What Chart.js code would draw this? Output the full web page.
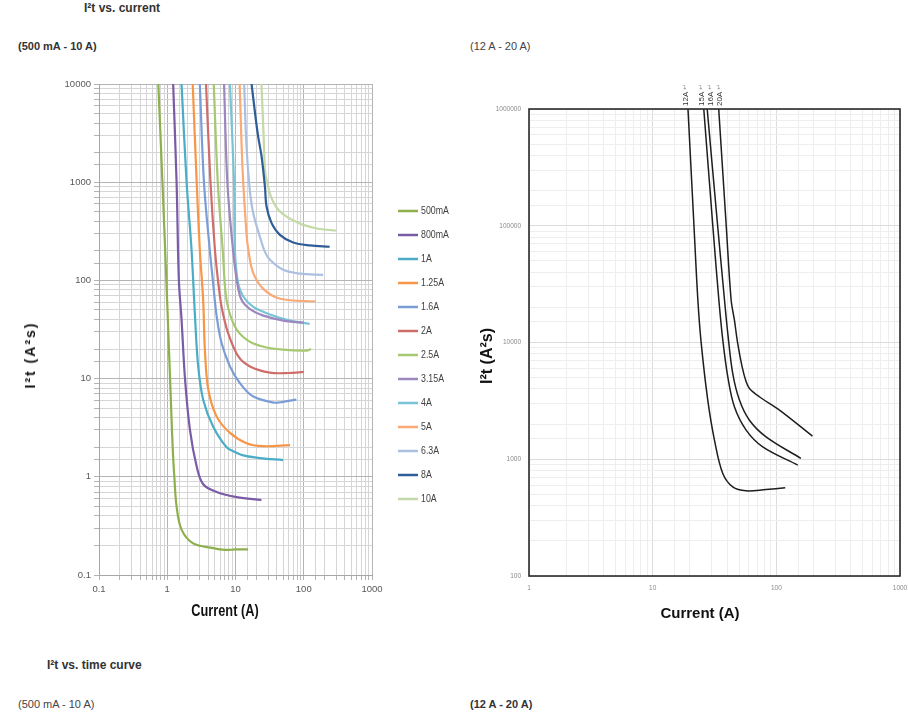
<!DOCTYPE html>
<html>
<head>
  <meta charset="utf-8">
  <title>I²t vs. current</title>
  <script src="https://cdn.jsdelivr.net/npm/chart.js"></script>
  <style>
    html, body { margin: 0; padding: 0; background: #fff; overflow: hidden; }
    #page { position: relative; width: 908px; height: 715px; overflow: hidden;
            font-family: "Liberation Sans", Arial, sans-serif; }
    .txt { position: absolute; white-space: nowrap; color: #333; }
    .b { font-weight: bold; }
    canvas { position: absolute; }
    .rot { transform: translate(-50%, -50%) rotate(-90deg); }
    .ctr { transform: translate(-50%, -50%); }
    .narrow { transform: translate(-50%, -50%) scaleX(0.75); }
  </style>
</head>
<body>
<div id="page">
  <div class="txt b" style="left:84px; top:1px; font-size:12px;">I²t vs. current</div>
  <div class="txt b" style="left:18px; top:40px; font-size:11px;">(500 mA - 10 A)</div>
  <div class="txt" style="left:470px; top:40px; font-size:11px; color:#444;">(12 A - 20 A)</div>

  <canvas id="leftChart" width="470" height="560" style="left:0; top:70px;"></canvas>
  <canvas id="rightChart" width="460" height="570" style="left:470px; top:60px;"></canvas>

  <div class="txt b rot" style="left:30px; top:355px; font-size:14px; letter-spacing:2px; color:#111;">I²t (A²s)</div>
  <div class="txt b narrow" style="left:225px; top:611px; font-size:17px; color:#111;">Current (A)</div>
  <div class="txt b rot" style="left:487px; top:356px; font-size:16px; color:#111;">I²t (A²s)</div>
  <div class="txt b ctr" style="left:700px; top:612px; font-size:15px; color:#111;">Current (A)</div>

  <div class="txt b" style="left:47px; top:658px; font-size:12px;">I²t vs. time curve</div>
  <div class="txt" style="left:18px; top:698px; font-size:11px; color:#444;">(500 mA - 10 A)</div>
  <div class="txt b" style="left:470px; top:698px; font-size:11px;">(12 A - 20 A)</div>
</div>

<script>
  // ---- left chart: 500 mA - 10 A, current (A) and I²t (A²s) ----
  const leftLabels = ['500mA', '800mA', '1A', '1.25A', '1.6A', '2A', '2.5A', '3.15A', '4A', '5A', '6.3A', '8A', '10A'];
  const leftColors = ['#8db04c', '#7a5ba6', '#4aacc6', '#f79646', '#7b9dd6', '#cf6d6b', '#a5c870',
                      '#9c87be', '#78c3d6', '#f9aa76', '#abc0e0', '#2f5d97', '#c4d9a8'];

  const cur500mA = [0.74, 0.85, 0.97, 1.1, 1.2, 1.27, 1.37, 1.62, 2.4, 4.7, 7, 10, 15.3];
  const val500mA = [10000, 1000, 100, 10, 2, 1.0, 0.5, 0.29, 0.21, 0.188, 0.18, 0.182, 0.182];
  const cur800mA = [1.22, 1.37, 1.48, 1.62, 1.82, 2.15, 2.7, 3.36, 5.3, 10.4, 24];
  const val800mA = [10000, 1000, 100, 40, 10, 3.0, 1.27, 0.84, 0.7, 0.62, 0.58];
  const cur1A = [1.62, 1.92, 2.27, 2.55, 2.84, 3.36, 4.7, 7.4, 10, 13, 22.7, 50];
  const val1A = [10000, 1000, 204, 43, 13.3, 6.1, 3.25, 2.0, 1.78, 1.65, 1.55, 1.48];
  const cur1_25A = [2.36, 2.7, 3.0, 3.36, 3.56, 4.0, 5.3, 8.3, 14.5, 25, 63];
  const val1_25A = [10000, 1000, 204, 63, 19.6, 7.7, 4.1, 2.8, 2.2, 2.05, 2.1];
  const cur1_6A = [3.0, 3.45, 4.2, 4.7, 5.3, 6.25, 8.3, 11.6, 18, 36, 50, 78];
  const val1_6A = [10000, 1000, 204, 94, 43, 23, 13.3, 9, 6.6, 5.7, 5.8, 6.1];
  const cur2A = [3.7, 4.3, 5.0, 5.6, 6.25, 7.8, 11, 16.3, 32, 60, 100];
  const val2A = [10000, 1000, 204, 94, 54, 29, 16.8, 13.3, 11.5, 11.4, 11.7];
  const cur2_5A = [4.8, 5.5, 6.5, 7.4, 9.8, 14.5, 25, 50, 110, 128];
  const val2_5A = [10000, 1000, 204, 63, 34, 25, 21.2, 19.7, 19.3, 20];
  const cur3_15A = [6.8, 7.6, 9.2, 10.6, 12.3, 16.3, 25, 50, 100];
  const val3_15A = [10000, 1000, 204, 94, 63, 51, 44, 39, 37];
  const cur4A = [8.3, 9.5, 9.8, 10.9, 12.9, 18, 32, 63, 122];
  const val4A = [10000, 1000, 204, 94, 69, 54, 45, 39, 36];
  const cur5A = [11.5, 12.7, 14.5, 15.5, 18.1, 25.5, 45, 150];
  const val5A = [10000, 1340, 300, 200, 120, 82, 65, 61];
  const cur6_3A = [13.4, 14.5, 16.2, 18.2, 22.7, 27, 32, 50, 88, 192];
  const val6_3A = [10000, 2300, 830, 484, 280, 195, 162, 128, 117, 114];
  const cur8A = [17.2, 19.9, 21.5, 24.1, 27, 28.5, 33.8, 44.7, 70, 123, 240];
  const val8A = [10000, 4300, 2900, 1830, 900, 566, 383, 291, 243, 227, 220];
  const cur10A = [24, 25.8, 27, 28.5, 30, 32.4, 35.6, 42.2, 56, 75, 98, 150, 220, 300];
  const val10A = [10000, 3000, 1340, 1055, 904, 744, 636, 525, 447, 400, 368, 340, 328, 322];

  const leftCurrents = [cur500mA, cur800mA, cur1A, cur1_25A, cur1_6A, cur2A, cur2_5A, cur3_15A, cur4A, cur5A, cur6_3A, cur8A, cur10A];
  const leftValues = [val500mA, val800mA, val1A, val1_25A, val1_6A, val2A, val2_5A, val3_15A, val4A, val5A, val6_3A, val8A, val10A];

  // ---- right chart: 12 A - 20 A ----
  const rightLabels = ['12A', '15A', '16A', '20A'];
  const cur12A = [19.3, 21.6, 23.2, 24.7, 27.9, 31.6, 36.9, 44.4, 56.9, 82.6, 118];
  const val12A = [1e6, 97500, 23100, 9820, 3210, 1459, 755, 580, 536, 551, 569];
  const cur15A = [25.9, 30.7, 34.3, 36.9, 40.5, 45.8, 57, 77.6, 149];
  const val15A = [1e6, 97500, 23100, 10500, 5080, 2810, 1775, 1276, 891];
  const cur16A = [27.6, 33.6, 38.1, 40.5, 44.4, 50.3, 60.6, 82.6, 158];
  const val16A = [1e6, 97500, 23100, 11970, 5430, 3210, 2160, 1556, 1016];
  const cur20A = [34.2, 39.4, 43.1, 45.8, 48.7, 52.9, 57, 60.6, 72.9, 106, 196];
  const val20A = [1e6, 97500, 23100, 15600, 9820, 6190, 4610, 4040, 3430, 2640, 1580];

  const rightCurrents = [cur12A, cur15A, cur16A, cur20A];
  const rightValues = [val12A, val15A, val16A, val20A];

  const sans = '"Liberation Sans", Arial, sans-serif';

  function isDecade(v) {
    const l = Math.log10(v);
    return Math.abs(l - Math.round(l)) < 1e-6;
  }
  function decadeLabel(v) {
    return isDecade(v) ? String(Math.pow(10, Math.round(Math.log10(v)))) : '';
  }
  function points(xs, ys) {
    return xs.map((x, i) => ({ x: x, y: ys[i] }));
  }

  // legend drawn to the right of the plot, one row per curve (text squeezed like a narrow face)
  const sideLegend = {
    id: 'sideLegend',
    afterDraw(chart) {
      const ctx = chart.ctx;
      const x0 = chart.chartArea.right + 26;
      ctx.save();
      ctx.textBaseline = 'middle';
      chart.data.datasets.forEach((ds, i) => {
        const y = 141 + i * 24;
        ctx.strokeStyle = ds.borderColor;
        ctx.lineWidth = 2.5;
        ctx.beginPath();
        ctx.moveTo(x0, y);
        ctx.lineTo(x0 + 20, y);
        ctx.stroke();
        ctx.save();
        ctx.translate(x0 + 23, y);
        ctx.scale(0.8, 1);
        ctx.font = '11px ' + sans;
        ctx.fillStyle = '#404040';
        ctx.fillText(ds.label, 0, 0);
        ctx.restore();
      });
      ctx.restore();
    }
  };

  new Chart(document.getElementById('leftChart'), {
    type: 'scatter',
    data: {
      datasets: leftLabels.map((name, i) => ({
        label: name,
        data: points(leftCurrents[i], leftValues[i]),
        showLine: true,
        borderColor: leftColors[i],
        backgroundColor: leftColors[i],
        borderWidth: 2.2,
        pointRadius: 0,
        tension: 0.35
      }))
    },
    options: {
      responsive: false,
      animation: false,
      layout: { padding: { left: 0, right: 98, top: 14, bottom: 0 } },
      plugins: { legend: { display: false }, tooltip: { enabled: false } },
      scales: {
        x: {
          type: 'logarithmic', min: 0.1, max: 1000,
          afterFit: s => { s.height = 55; },
          grid: {
            color: c => isDecade(c.tick.value) ? '#b4b4b4' : '#d6d6d6',
            tickLength: 5, tickColor: '#b4b4b4'
          },
          border: { color: '#a6a6a6' },
          ticks: { autoSkip: false, maxRotation: 0, padding: 4, color: '#595959',
                   font: { family: sans, size: 9.5 }, callback: decadeLabel }
        },
        y: {
          type: 'logarithmic', min: 0.1, max: 10000,
          afterFit: s => { s.width = 99; },
          grid: {
            color: c => isDecade(c.tick.value) ? '#b4b4b4' : '#d6d6d6',
            tickLength: 5, tickColor: '#b4b4b4'
          },
          border: { color: '#a6a6a6' },
          ticks: { autoSkip: false, padding: 3, color: '#595959',
                   font: { family: sans, size: 9.5 }, callback: decadeLabel }
        }
      }
    },
    plugins: [sideLegend]
  });

  // black frame round the plot and rotated rating labels above each curve
  const frameAndTags = {
    id: 'frameAndTags',
    afterDraw(chart) {
      const ctx = chart.ctx;
      const a = chart.chartArea;
      ctx.save();
      ctx.strokeStyle = '#2a2a2a';
      ctx.lineWidth = 1.6;
      ctx.strokeRect(a.left, a.top, a.right - a.left, a.bottom - a.top);
      let prev = -Infinity;
      chart.data.datasets.forEach(ds => {
        // keep neighbouring tags at least 9px apart
        let x = chart.scales.x.getPixelForValue(ds.data[0].x) - 2;
        if (x < prev + 9) x = prev + 9;
        prev = x;
        ctx.save();
        ctx.translate(x, a.top - 3);
        ctx.rotate(-Math.PI / 2);
        ctx.textBaseline = 'middle';
        ctx.font = '8px ' + sans;
        ctx.fillStyle = '#333';
        ctx.fillText(ds.label, 0, 0);
        const w = ctx.measureText(ds.label).width;
        ctx.fillStyle = '#999';
        ctx.font = '7px "DejaVu Sans", sans-serif';
        ctx.fillText('↵', w + 2, -1);
        ctx.restore();
      });
      ctx.restore();
    }
  };

  new Chart(document.getElementById('rightChart'), {
    type: 'scatter',
    data: {
      datasets: rightLabels.map((name, i) => ({
        label: name,
        data: points(rightCurrents[i], rightValues[i]),
        showLine: true,
        borderColor: '#1e1e1e',
        borderWidth: 1.5,
        pointRadius: 0,
        tension: 0.35
      }))
    },
    options: {
      responsive: false,
      animation: false,
      layout: { padding: { left: 0, right: 30, top: 49, bottom: 0 } },
      plugins: { legend: { display: false }, tooltip: { enabled: false } },
      scales: {
        x: {
          type: 'logarithmic', min: 1, max: 1000,
          afterFit: s => { s.height = 54; },
          grid: { color: c => isDecade(c.tick.value) ? '#dcdcdc' : '#eeeeee', drawTicks: false },
          border: { display: false },
          ticks: { autoSkip: false, maxRotation: 0, padding: 8, color: '#8a8a8a',
                   font: { family: sans, size: 6.5 }, callback: decadeLabel }
        },
        y: {
          type: 'logarithmic', min: 100, max: 1000000,
          afterFit: s => { s.width = 59; },
          grid: { color: c => isDecade(c.tick.value) ? '#dcdcdc' : '#eeeeee', drawTicks: false },
          border: { display: false },
          ticks: { autoSkip: false, padding: 8, color: '#8a8a8a',
                   font: { family: sans, size: 6.5 }, callback: decadeLabel }
        }
      }
    },
    plugins: [frameAndTags]
  });
</script>
</body>
</html>
